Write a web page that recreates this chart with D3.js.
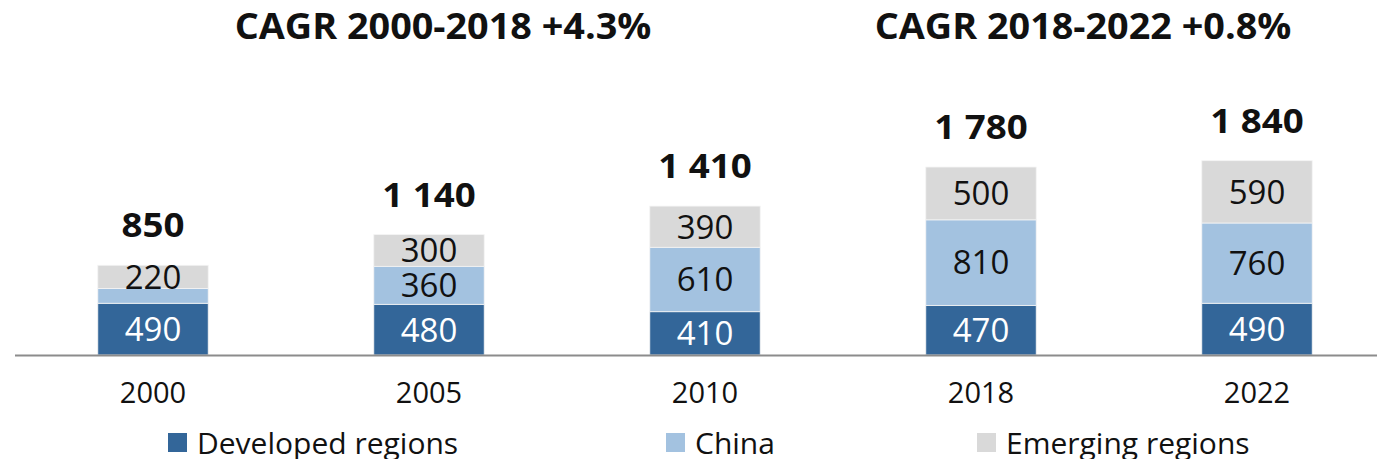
<!DOCTYPE html>
<html>
<head>
<meta charset="utf-8">
<script src="https://cdn.jsdelivr.net/npm/d3@7"></script>
<style>
  body { margin: 0; background: #fff; }
  text { font-family: "Open Sans", "Noto Sans", sans-serif; }
</style>
</head>
<body>
<div id="chart"></div>
<script>
// chart data
var years = ["2000", "2005", "2010", "2018", "2022"];
var developed = [490, 480, 410, 470, 490];
var china = [140, 360, 610, 810, 760];
var emerging = [220, 300, 390, 500, 590];
var totals = ["850", "1 140", "1 410", "1 780", "1 840"];
var seriesNames = ["Developed regions", "China", "Emerging regions"];
var seriesColors = ["#336699", "#A3C2E0", "#D9D9D9"];
var labelColors = ["#ffffff", "#111111", "#111111"];
var cagrTitles = ["CAGR 2000-2018 +4.3%", "CAGR 2018-2022 +0.8%"];
var hideLabelBelow = 200;

var width = 1377, height = 459;
var boldStretch = 1.08; // bold texts in the original are a bit wider than Open Sans

var svg = d3.select("#chart").append("svg")
    .attr("width", width)
    .attr("height", height);

var rows = years.map(function(y, i) {
  return { year: y, dev: developed[i], china: china[i], emg: emerging[i], total: totals[i] };
});
var keys = ["dev", "china", "emg"];
var stack = d3.stack().keys(keys)(rows);

var x = d3.scaleBand()
    .domain(years)
    .range([15, 1395])
    .paddingInner(0.6)
    .paddingOuter(0.3);

var baseY = 355;
var y = d3.scaleLinear()
    .domain([0, 2000])
    .range([baseY, baseY - 211.2]);

// bars
var layers = svg.selectAll(".layer")
    .data(stack)
  .enter().append("g")
    .attr("class", "layer")
    .attr("fill", function(d, i) { return seriesColors[i]; });

layers.selectAll("rect")
    .data(function(d) { return d; })
  .enter().append("rect")
    .attr("x", function(d) { return x(d.data.year); })
    .attr("width", x.bandwidth())
    .attr("y", function(d) { return y(d[1]); })
    .attr("height", function(d) { return y(d[0]) - y(d[1]); })
    .attr("stroke", "#f4f4f4")
    .attr("stroke-width", 0.8);

// segment values
layers.each(function(s, si) {
  d3.select(this).selectAll("text")
      .data(s.filter(function(d) { return d[1] - d[0] >= hideLabelBelow; }))
    .enter().append("text")
      .attr("x", function(d) { return x(d.data.year) + x.bandwidth() / 2; })
      .attr("y", function(d) { return (y(d[0]) + y(d[1])) / 2; })
      .attr("dy", "0.36em")
      .attr("text-anchor", "middle")
      .attr("font-size", 33)
      .attr("fill", labelColors[si])
      .text(function(d) { return d[1] - d[0]; });
});

// totals
svg.selectAll(".total")
    .data(rows)
  .enter().append("text")
    .attr("class", "total")
    .attr("transform", function(d) {
      return "translate(" + (x(d.year) + x.bandwidth() / 2) + "," + (y(d.dev + d.china + d.emg) - 28) + ") scale(" + boldStretch + ",1)";
    })
    .attr("text-anchor", "middle")
    .attr("font-size", 34)
    .attr("font-weight", "bold")
    .attr("fill", "#111")
    .text(function(d) { return d.total; });

// x axis
var xAxis = d3.axisBottom(x).tickSize(0).tickPadding(0);
var gX = svg.append("g")
    .attr("transform", "translate(0," + baseY + ")")
    .call(xAxis);
gX.select(".domain").remove();
gX.selectAll("text")
    .attr("y", 48)
    .attr("dy", 0)
    .attr("font-size", 29)
    .attr("fill", "#111")
    .style("font-family", "'Open Sans', sans-serif");

svg.append("line")
    .attr("x1", 15)
    .attr("x2", width)
    .attr("y1", baseY + 0.5)
    .attr("y2", baseY + 0.5)
    .attr("stroke", "#8c8c8c")
    .attr("stroke-width", 1.8);

// CAGR titles
svg.selectAll(".cagr")
    .data(cagrTitles)
  .enter().append("text")
    .attr("class", "cagr")
    .attr("transform", function(d, i) {
      return "translate(" + (i == 0 ? 443 : 1083) + ",39) scale(" + boldStretch + ",1)";
    })
    .attr("text-anchor", "middle")
    .attr("font-size", 35)
    .attr("font-weight", "bold")
    .attr("fill", "#111")
    .text(function(d) { return d; });

// legend
var legendX = [168, 666, 977];
var legend = svg.selectAll(".legend")
    .data(seriesNames)
  .enter().append("g")
    .attr("class", "legend")
    .attr("transform", function(d, i) { return "translate(" + legendX[i] + ",433)"; });

legend.append("rect")
    .attr("width", 19)
    .attr("height", 19)
    .attr("fill", function(d, i) { return seriesColors[i]; });

legend.append("text")
    .attr("x", 29)
    .attr("y", 21)
    .attr("font-size", 30)
    .attr("fill", "#111")
    .text(function(d) { return d; });
</script>
</body>
</html>
